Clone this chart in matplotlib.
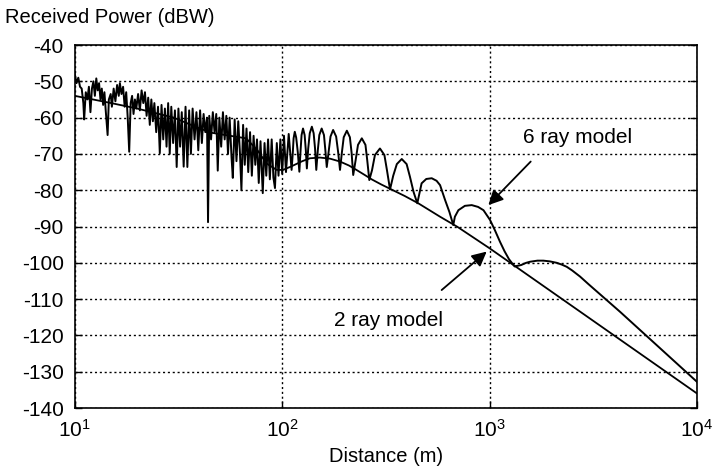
import numpy as np
import matplotlib as mpl
import matplotlib.pyplot as plt

mpl.rcParams['font.family'] = ['Liberation Sans', 'DejaVu Sans']
mpl.rcParams['mathtext.fontset'] = 'custom'
mpl.rcParams['mathtext.rm'] = 'Liberation Sans'
mpl.rcParams['mathtext.default'] = 'regular'
mpl.rcParams['axes.unicode_minus'] = False

# 6 ray model, short range (m, dBW) - dense fading
near_d = [10.0, 10.2, 10.4, 10.6, 10.8, 11.0, 11.1, 11.3, 11.5, 11.7,
          11.9, 12.1, 12.3, 12.5, 12.7, 12.9, 13.1, 13.3, 13.5, 13.7,
          13.9, 14.1, 14.4, 14.6, 14.9, 15.1, 15.4, 15.7, 16.0, 16.3,
          16.5, 16.8, 17.1, 17.4, 17.7, 18.0, 18.3, 18.6, 18.9, 19.2,
          19.5, 19.8, 20.2, 20.6, 21.0, 21.4, 21.8, 22.2, 22.6, 23.0,
          23.4, 23.8, 24.2, 24.7, 25.2, 25.7, 26.2, 26.7, 27.2, 27.7,
          28.2, 28.7, 29.2, 29.8, 30.4, 31.0, 31.6, 32.2, 32.8, 33.5,
          34.2, 34.9, 35.6, 36.3, 37.0, 37.8, 38.6, 39.4, 40.2, 41.0,
          41.8, 42.6, 43.4, 43.9, 44.5, 45.4, 46.3, 47.2, 48.1, 48.9,
          49.8, 50.8, 51.8, 52.8, 53.8, 54.8, 55.8, 57.0, 57.8, 59.0,
          60.2, 61.4, 62.6, 63.6, 64.8, 66.0, 67.3, 68.6, 70.0, 71.4,
          72.8, 74.2, 75.6, 77.1, 78.6, 80.6, 82.2, 83.8, 85.5, 87.2,
          89.0, 90.7, 92.3, 94.2, 96.0, 98.0, 100.0, 102.0, 104.3, 107.5]
near_db = [-48.0, -50.5, -49.0, -51.5, -52.0, -56.0, -60.5, -53.0, -55.0, -51.5,
           -58.5, -52.0, -50.0, -54.0, -49.2, -52.5, -50.5, -55.0, -52.0, -56.5,
           -53.0, -58.0, -64.8, -55.0, -53.5, -57.0, -52.0, -55.5, -51.0, -54.0,
           -50.5, -53.5, -51.5, -57.0, -53.0, -60.0, -69.4, -56.0, -54.0, -59.0,
           -55.0, -57.5, -53.5, -58.0, -52.5, -56.0, -53.0, -59.5, -54.5, -62.0,
           -55.0, -61.0, -56.0, -64.0, -57.0, -69.8, -56.5, -66.0, -57.5, -68.0,
           -56.0, -70.0, -57.0, -67.0, -58.0, -73.6, -57.5, -68.0, -58.5, -73.5,
           -57.0, -73.6, -58.0, -70.0, -57.5, -66.0, -58.5, -69.0, -58.0, -67.0,
           -59.0, -64.0, -60.0, -88.8, -59.5, -66.0, -58.5, -64.0, -59.0, -74.6,
           -60.0, -68.0, -58.5, -66.0, -59.5, -70.0, -60.0, -71.0, -76.6, -60.5,
           -72.0, -61.0, -70.0, -80.0, -62.0, -73.0, -63.0, -75.0, -64.0, -76.0,
           -65.0, -73.0, -66.0, -78.0, -66.5, -80.8, -67.0, -76.0, -66.0, -77.0,
           -66.0, -76.5, -79.4, -67.0, -76.0, -66.0, -75.5, -65.0, -75.0, -64.5]

# 6 ray model, lobes beyond 100 m
far_d = [111, 112.4, 113.5, 115, 116.8, 118.9,
         121, 122.5, 124, 126, 128.3, 130,
         131.5, 133.5, 135.8, 139, 141.8, 144,
         146, 148.5, 151, 155, 159, 161.5,
         164, 167.5, 171, 176, 182, 186,
         190, 194, 198, 205, 212, 216,
         220, 226, 232, 242, 252, 257,
         263, 271, 280, 296, 311, 320,
         331, 343, 357, 377, 398, 413, 430,
         448, 460, 470, 495, 526, 555, 577, 610, 640,
         668, 680, 707, 760, 820, 880, 934, 1005, 1060, 1122, 1180, 1240,
         1320, 1420, 1500, 1567, 1700, 1816, 1950, 2107, 2230, 2355, 2500,
         2731, 3000, 4256, 10000]
far_db = [-74.4, -70.0, -65.7, -63.9, -65.5, -69.5,
          -74.9, -69.5, -64.8, -63.0, -64.8, -69.0,
          -74.0, -68.5, -64.3, -62.5, -64.3, -68.5,
          -74.4, -69.0, -64.8, -63.0, -64.8, -69.0,
          -73.6, -69.4, -65.2, -63.4, -65.2, -69.4,
          -74.4, -69.6, -65.4, -63.6, -65.4, -69.6,
          -75.8, -71.7, -67.5, -65.7, -67.5, -71.7,
          -77.2, -74.5, -70.3, -68.5, -70.3, -74.5,
          -79.8, -76.0, -72.8, -71.4, -72.8, -76.3, -80.5,
          -83.6, -80.5, -78.1, -76.9, -76.7, -77.4, -78.6, -82.7, -86.0,
          -89.6, -87.3, -85.5, -84.3, -84.1, -84.6, -85.5, -88.2, -91.0, -94.2, -96.8, -99.0,
          -101.0, -100.6, -100.0, -99.7, -99.4, -99.4, -99.6, -100.0, -100.5, -101.1, -102.1,
          -103.8, -105.9, -113.5, -132.8]

# 2 ray model
two_d = [10, 15, 20, 30, 40, 46, 56, 67, 76, 84,
         94, 101, 110, 125, 136, 152, 170, 190, 210, 228, 250, 270,
         300, 331, 390, 453, 577, 700, 1000, 10000]
two_db = [-54.0, -56.0, -57.5, -60.0, -63.0, -64.2, -65.0, -65.7, -69.0, -72.6,
          -74.4, -74.4, -73.5, -72.0, -71.2, -71.0, -71.3, -72.1, -73.2, -74.4, -75.8, -77.0,
          -78.4, -79.6, -81.6, -83.6, -87.3, -90.1, -96.0, -136.0]

six_d = near_d + far_d
six_db = near_db + far_db

fig = plt.figure(figsize=(7.12, 4.69), dpi=100)
ax = fig.add_axes([0.105, 0.130, 0.874, 0.774])

ax.plot(six_d, six_db, color='black', lw=1.4)
ax.plot(two_d, two_db, color='black', lw=1.3)

ax.set_xscale('log')
ax.set_xlim(10, 1e4)
ax.set_ylim(-140, -40)
ax.set_yticks(np.arange(-140, -39, 10))
ax.set_xticks([10, 100, 1000, 10000])
ax.minorticks_off()
ax.grid(True, color='black', linestyle=(0, (1.5, 2)), linewidth=1.0)
ax.tick_params(direction='in', length=5, width=1, labelsize=15,
               top=False, right=True, pad=8)
for s in ax.spines.values():
    s.set_linewidth(1.2)

ax.set_xlabel('Distance (m)', fontsize=14.5, labelpad=4)
fig.text(0.007, 0.962, 'Received Power (dBW)', fontsize=14.5, va='center', ha='left')

arrow = dict(arrowstyle='-|>', color='black', lw=1.3, mutation_scale=22,
             shrinkA=0, shrinkB=0)
ax.text(2642, -65.6, '6 ray model', fontsize=15, ha='center', va='center')
ax.annotate('', xy=(986, -84.1), xytext=(1578, -72.1), arrowprops=arrow)
ax.annotate('', xy=(968, -96.9), xytext=(587, -107.5), arrowprops=arrow)
ax.text(324, -115.8, '2 ray model', fontsize=15, ha='center', va='center')

fig.savefig('out.png', dpi=100)
